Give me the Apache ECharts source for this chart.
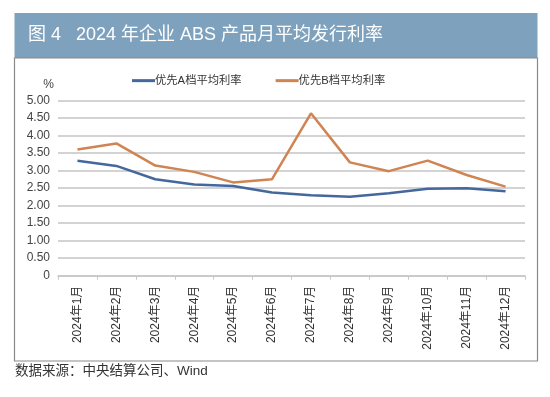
<!DOCTYPE html>
<html><head><meta charset="utf-8">
<script src="https://cdn.jsdelivr.net/npm/echarts@6/dist/echarts.min.js"></script>
<style>html,body{margin:0;padding:0;background:#fff;}#c{width:550px;height:397px;}</style>
</head><body><div id="c"></div>
<script>
const categories = ['2024年1月','2024年2月','2024年3月','2024年4月','2024年5月','2024年6月','2024年7月','2024年8月','2024年9月','2024年10月','2024年11月','2024年12月'];
const seriesA = [3.28, 3.13, 2.75, 2.60, 2.56, 2.37, 2.29, 2.25, 2.35, 2.48, 2.49, 2.41];
const seriesB = [3.60, 3.77, 3.14, 2.96, 2.66, 2.75, 4.63, 3.23, 2.98, 3.28, 2.87, 2.54];
const nameA = '优先A档平均利率';
const nameB = '优先B档平均利率';
const titleText = '图 4   2024 年企业 ABS 产品月平均发行利率';
const sourceText = '数据来源：中央结算公司、Wind';

const font = '"Liberation Sans","Noto Sans CJK SC",sans-serif';
const chart = echarts.init(document.getElementById('c'), null, {renderer:'canvas'});
chart.setOption({
  backgroundColor:'#fff',
  animation:false,
  textStyle:{fontFamily:font},
  graphic:[
    {type:'rect', shape:{x:14.5,y:13,width:523,height:45}, style:{fill:'#7ea2bd'}, z:0},
    {type:'rect', shape:{x:14.5,y:58,width:523,height:303}, style:{fill:'none',stroke:'#8a8a8a',lineWidth:1.2}, z:0},
    {type:'text', left:28, top:26, style:{text:titleText, fill:'#fff', font:'18px '+font}, z:5},
    {type:'text', left:15, top:365, style:{text:sourceText, fill:'#333', font:'13.5px '+font}, z:5}
  ],
  legend:{
    top:70, left:127, itemGap:34, itemWidth:23, itemHeight:3,
    icon:'rect',
    textStyle:{fontSize:11.3, color:'#333', padding:[0,0,0,-5]},
    data:[nameA,nameB]
  },
  grid:{left:58, right:25, top:100.3, bottom:121.3, containLabel:false},
  xAxis:{
    type:'category', data:categories, boundaryGap:true,
    axisLine:{lineStyle:{color:'#c8c8c8', width:1.5}},
    axisTick:{show:true, lineStyle:{color:'#c8c8c8'}, length:4},
    axisLabel:{rotate:90, fontSize:12, color:'#333', margin:10}
  },
  yAxis:{
    type:'value', min:0, max:5, interval:0.5,
    name:'%', nameLocation:'end', nameGap:10,
    nameTextStyle:{color:'#444', fontSize:12, align:'right', padding:[0,4,0,0]},
    axisLine:{show:false}, axisTick:{show:false},
    splitLine:{lineStyle:{color:'#d3d3d3', width:2}},
    axisLabel:{fontSize:12, color:'#444', margin:8, formatter:v=> v===0?'0':v.toFixed(2)}
  },
  series:[
    {name:nameA, type:'line', data:seriesA, symbol:'none', lineStyle:{color:'#44679d', width:2.5}, itemStyle:{color:'#44679d'}},
    {name:nameB, type:'line', data:seriesB, symbol:'none', lineStyle:{color:'#cf8452', width:2.5}, itemStyle:{color:'#cf8452'}}
  ]
});
</script></body></html>
